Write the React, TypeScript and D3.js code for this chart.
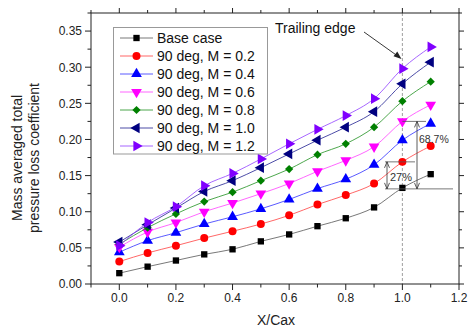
import React from "react";
import * as d3 from "d3";

const xs = [0, 0.1, 0.2, 0.3, 0.4, 0.5, 0.6, 0.7, 0.8, 0.9, 1.0, 1.1];

const baseCase = [0.015, 0.024, 0.0325, 0.041, 0.048, 0.059, 0.0686, 0.08, 0.091, 0.106, 0.133, 0.152];
const m02 = [0.031, 0.043, 0.053, 0.0635, 0.073, 0.083, 0.095, 0.11, 0.123, 0.139, 0.169, 0.191];
const m04 = [0.044, 0.06, 0.071, 0.083, 0.093, 0.104, 0.117, 0.132, 0.145, 0.165, 0.199, 0.222];
const m06 = [0.051, 0.072, 0.085, 0.1, 0.112, 0.125, 0.139, 0.156, 0.171, 0.19, 0.225, 0.248];
const m08 = [0.055, 0.078, 0.097, 0.114, 0.127, 0.143, 0.159, 0.179, 0.194, 0.217, 0.253, 0.28];
const m10 = [0.058, 0.082, 0.105, 0.128, 0.143, 0.161, 0.18, 0.199, 0.217, 0.2385, 0.277, 0.307];
const m12 = [0.053, 0.085, 0.107, 0.136, 0.153, 0.173, 0.194, 0.214, 0.233, 0.2565, 0.298, 0.328];

const xTicks = [0, 0.2, 0.4, 0.6, 0.8, 1.0, 1.2];
const yTicks = [0, 0.05, 0.1, 0.15, 0.2, 0.25, 0.3, 0.35];

const series = [
  { name: "Base case", values: baseCase, color: "#000000", line: "#555555", symbol: d3.symbolSquare, rot: 0, size: 40 },
  { name: "90 deg, M = 0.2", values: m02, color: "#ff0000", line: "#ff4040", symbol: d3.symbolCircle, rot: 0, size: 50 },
  { name: "90 deg, M = 0.4", values: m04, color: "#0000ff", line: "#3030ff", symbol: d3.symbolTriangle, rot: 0, size: 50 },
  { name: "90 deg, M = 0.6", values: m06, color: "#ff00ff", line: "#ff40ff", symbol: d3.symbolTriangle, rot: 180, size: 50 },
  { name: "90 deg, M = 0.8", values: m08, color: "#008000", line: "#209020", symbol: d3.symbolSquare, rot: 45, size: 34 },
  { name: "90 deg, M = 1.0", values: m10, color: "#000080", line: "#202090", symbol: d3.symbolTriangle, rot: -90, size: 50 },
  { name: "90 deg, M = 1.2", values: m12, color: "#8000ff", line: "#9040ff", symbol: d3.symbolTriangle, rot: 90, size: 50 },
];

const W = 468;
const H = 327;
const L = 91, R = 459, T = 13, B = 284;
const font = "Arial, 'Liberation Sans', sans-serif";

export default function App() {
  const x = d3.scaleLinear().domain([-0.1, 1.2]).range([L, R]);
  const y = d3.scaleLinear().domain([0, 0.375]).range([B, T]);
  const line = d3.line<number>().x((_, i) => x(xs[i])).y((d) => y(d)).curve(d3.curveMonotoneX);

  const xMinor = d3.range(-0.1, 1.21, 0.1).map((v) => +v.toFixed(2));
  const yMinor = d3.range(0, 0.376, 0.025).map((v) => +v.toFixed(3));

  const x1 = x(1.0);
  const yBase = y(baseCase[10]);
  const yRed = y(m02[10]);
  const yMag = y(m06[10]);

  const arrowV = (ax: number, y1: number, y2: number) => (
    <g stroke="#333" strokeWidth={0.8} fill="none">
      <line x1={ax} x2={ax} y1={y1} y2={y2} />
      <path d={`M${ax - 2.5},${y1 + 6}L${ax},${y1}L${ax + 2.5},${y1 + 6}`} />
      <path d={`M${ax - 2.5},${y2 - 6}L${ax},${y2}L${ax + 2.5},${y2 - 6}`} />
    </g>
  );

  return (
    <svg width={W} height={H} style={{ position: "absolute", left: 0, top: 0, background: "#fff" }} fontFamily={font}>
      {/* trailing edge line */}
      <line x1={x1} x2={x1} y1={T} y2={B} stroke="#888" strokeWidth={0.8} strokeDasharray="3,2" />

      {/* series */}
      {series.map((s) => (
        <g key={s.name}>
          <path d={line(s.values) || ""} fill="none" stroke={s.line} strokeWidth={0.8} />
          {s.values.map((v, i) => (
            <path
              key={i}
              d={d3.symbol().type(s.symbol).size(s.size)() || ""}
              transform={`translate(${x(xs[i])},${y(v)}) rotate(${s.rot})`}
              fill={s.color}
            />
          ))}
        </g>
      ))}

      {/* annotations */}
      <g stroke="#555" strokeWidth={0.8}>
        <line x1={385} x2={453} y1={yBase + 1} y2={yBase + 1} />
        <line x1={385} x2={415} y1={yRed} y2={yRed} />
        <line x1={x1} x2={426} y1={yMag} y2={yMag} />
      </g>
      {arrowV(387, yRed, yBase + 1)}
      {arrowV(417, yMag, yBase + 1)}
      <text x={390} y={181} fontSize={11} fill="#333">27%</text>
      <text x={419} y={143} fontSize={10.5} fill="#333">68.7%</text>

      <text x={275} y={33} fontSize={14} fill="#111">Trailing edge</text>
      <line x1={364} y1={32} x2={399} y2={57} stroke="#222" strokeWidth={0.9} />
      <path d="M401.5,59 L393.5,56.2 L397.3,51.6 Z" fill="#222" />

      {/* frame */}
      <rect x={L} y={T} width={R - L} height={B - T} fill="none" stroke="#222" strokeWidth={1} />

      {/* x ticks */}
      {xMinor.map((v) => {
        const major = xTicks.some((t) => Math.abs(t - v) < 1e-6);
        return (
          <g key={"x" + v} stroke="#222" strokeWidth={1}>
            <line x1={x(v)} x2={x(v)} y1={B} y2={B + (major ? 6 : 3.5)} />
            <line x1={x(v)} x2={x(v)} y1={T} y2={T - (major ? 5 : 3)} />
          </g>
        );
      })}
      {xTicks.map((v) => (
        <text key={"xl" + v} x={x(v)} y={301.5} fontSize={12} textAnchor="middle" fill="#222">
          {d3.format(".1f")(v)}
        </text>
      ))}

      {/* y ticks */}
      {yMinor.map((v) => {
        const major = yTicks.some((t) => Math.abs(t - v) < 1e-6);
        return (
          <g key={"y" + v} stroke="#222" strokeWidth={1}>
            <line x1={L} x2={L - (major ? 6 : 3.5)} y1={y(v)} y2={y(v)} />
            <line x1={R} x2={R + (major ? 5 : 3)} y1={y(v)} y2={y(v)} />
          </g>
        );
      })}
      {yTicks.map((v) => (
        <text key={"yl" + v} x={82} y={y(v) + 4.3} fontSize={12} textAnchor="end" fill="#222">
          {d3.format(".2f")(v)}
        </text>
      ))}

      {/* axis titles */}
      <text x={276} y={325} fontSize={14} textAnchor="middle" fill="#222">X/Cax</text>
      <text transform="translate(22,158) rotate(-90)" fontSize={14} textAnchor="middle" fill="#222">Mass averaged total</text>
      <text transform="translate(39,158) rotate(-90)" fontSize={14} textAnchor="middle" fill="#222">pressure loss coefficient</text>

      {/* legend */}
      <rect x={113.5} y={27.5} width={154} height={126.5} fill="#fff" stroke="#999" strokeWidth={1} />
      {series.map((s, i) => {
        const ly = 38 + i * 18;
        return (
          <g key={"lg" + s.name}>
            <line x1={120} x2={153} y1={ly} y2={ly} stroke={s.line} strokeWidth={0.8} />
            <path
              d={d3.symbol().type(s.symbol).size(s.size)() || ""}
              transform={`translate(136.5,${ly}) rotate(${s.rot})`}
              fill={s.color}
            />
            <text x={157} y={ly + 5} fontSize={14} fill="#111">{s.name}</text>
          </g>
        );
      })}
    </svg>
  );
}
